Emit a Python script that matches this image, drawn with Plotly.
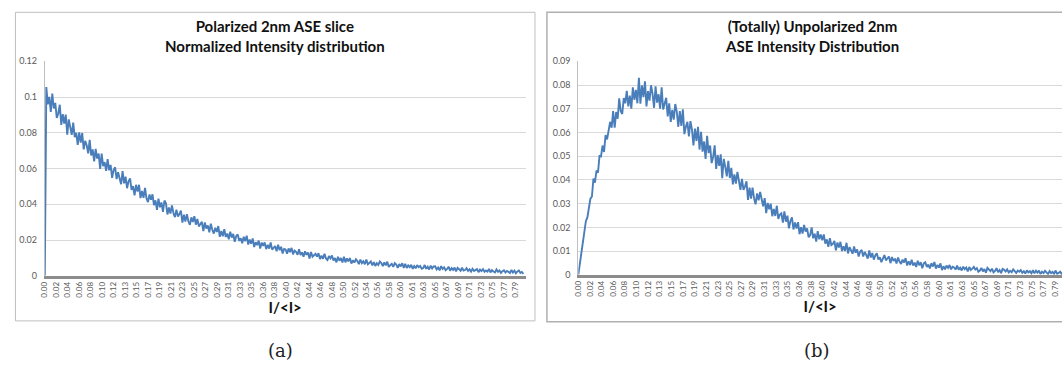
import plotly.graph_objects as go

# ---- data -----------------------------------------------------------------
# Normalised intensity histograms, one value per bin of width BIN_WIDTH in I/<I>
BIN_WIDTH = 0.0025

polarized = [
    0.0,
    0.1056, 0.0959, 0.1001, 0.0917, 0.1020, 0.0936, 0.0967, 0.0883, 0.0908, 0.0957,
    0.0844, 0.0905, 0.0852, 0.0902, 0.0790, 0.0875, 0.0835, 0.0789, 0.0857, 0.0775,
    0.0800, 0.0733, 0.0802, 0.0745, 0.0799, 0.0707, 0.0755, 0.0730, 0.0685, 0.0760,
    0.0673, 0.0707, 0.0640, 0.0710, 0.0656, 0.0684, 0.0598, 0.0684, 0.0613, 0.0636,
    0.0587, 0.0652, 0.0590, 0.0620, 0.0548, 0.0591, 0.0607, 0.0541, 0.0579, 0.0549,
    0.0512, 0.0586, 0.0517, 0.0555, 0.0490, 0.0529, 0.0545, 0.0480, 0.0502, 0.0450,
    0.0509, 0.0471, 0.0509, 0.0435, 0.0474, 0.0436, 0.0491, 0.0433, 0.0412, 0.0455,
    0.0425, 0.0456, 0.0395, 0.0422, 0.0369, 0.0432, 0.0383, 0.0410, 0.0357, 0.0421,
    0.0405, 0.0343, 0.0382, 0.0348, 0.0394, 0.0351, 0.0328, 0.0370, 0.0331, 0.0345,
    0.0364, 0.0297, 0.0342, 0.0303, 0.0345, 0.0305, 0.0285, 0.0327, 0.0301, 0.0333,
    0.0286, 0.0318, 0.0276, 0.0290, 0.0302, 0.0250, 0.0298, 0.0264, 0.0282, 0.0243,
    0.0291, 0.0257, 0.0236, 0.0269, 0.0245, 0.0278, 0.0218, 0.0251, 0.0221, 0.0260,
    0.0217, 0.0236, 0.0204, 0.0247, 0.0214, 0.0234, 0.0190, 0.0222, 0.0231, 0.0195,
    0.0210, 0.0182, 0.0218, 0.0194, 0.0224, 0.0175, 0.0203, 0.0179, 0.0209, 0.0161,
    0.0188, 0.0171, 0.0197, 0.0152, 0.0186, 0.0167, 0.0187, 0.0149, 0.0173, 0.0152,
    0.0186, 0.0146, 0.0160, 0.0166, 0.0137, 0.0174, 0.0143, 0.0162, 0.0125, 0.0150,
    0.0147, 0.0123, 0.0153, 0.0132, 0.0156, 0.0120, 0.0141, 0.0134, 0.0117, 0.0149,
    0.0116, 0.0131, 0.0107, 0.0137, 0.0117, 0.0130, 0.0097, 0.0133, 0.0107, 0.0118,
    0.0123, 0.0107, 0.0126, 0.0093, 0.0113, 0.0095, 0.0123, 0.0097, 0.0088, 0.0110,
    0.0097, 0.0113, 0.0085, 0.0099, 0.0075, 0.0106, 0.0084, 0.0099, 0.0074, 0.0106,
    0.0075, 0.0097, 0.0081, 0.0099, 0.0068, 0.0086, 0.0074, 0.0092, 0.0082, 0.0065,
    0.0091, 0.0071, 0.0081, 0.0064, 0.0091, 0.0064, 0.0071, 0.0080, 0.0058, 0.0076,
    0.0055, 0.0070, 0.0060, 0.0080, 0.0071, 0.0054, 0.0075, 0.0058, 0.0079, 0.0049,
    0.0059, 0.0067, 0.0050, 0.0070, 0.0062, 0.0044, 0.0065, 0.0052, 0.0070, 0.0044,
    0.0067, 0.0044, 0.0058, 0.0048, 0.0061, 0.0039, 0.0054, 0.0042, 0.0060, 0.0048,
    0.0055, 0.0039, 0.0043, 0.0060, 0.0039, 0.0050, 0.0035, 0.0057, 0.0041, 0.0052,
    0.0053, 0.0035, 0.0046, 0.0030, 0.0054, 0.0038, 0.0047, 0.0031, 0.0038, 0.0051,
    0.0028, 0.0043, 0.0033, 0.0046, 0.0024, 0.0044, 0.0037, 0.0028, 0.0045, 0.0029,
    0.0032, 0.0042, 0.0027, 0.0036, 0.0023, 0.0039, 0.0027, 0.0030, 0.0037, 0.0020,
    0.0035, 0.0026, 0.0037, 0.0022, 0.0030, 0.0023, 0.0038, 0.0019, 0.0031, 0.0024,
    0.0019, 0.0035, 0.0022, 0.0030, 0.0016, 0.0026, 0.0031, 0.0018, 0.0027, 0.0022,
    0.0015, 0.0032, 0.0018, 0.0028, 0.0014, 0.0024, 0.0029, 0.0016, 0.0021, 0.0011,
]

unpolarized = [
    0.0,
    0.0048, 0.0080, 0.0143, 0.0176, 0.0226, 0.0242, 0.0290, 0.0321, 0.0330, 0.0406,
    0.0388, 0.0439, 0.0431, 0.0501, 0.0499, 0.0545, 0.0518, 0.0589, 0.0571, 0.0606,
    0.0645, 0.0620, 0.0690, 0.0620, 0.0686, 0.0658, 0.0744, 0.0690, 0.0678, 0.0745,
    0.0723, 0.0775, 0.0710, 0.0755, 0.0700, 0.0790, 0.0738, 0.0780, 0.0723, 0.0830,
    0.0721, 0.0799, 0.0749, 0.0816, 0.0710, 0.0774, 0.0734, 0.0799, 0.0763, 0.0704,
    0.0795, 0.0726, 0.0761, 0.0700, 0.0790, 0.0697, 0.0718, 0.0746, 0.0668, 0.0723,
    0.0645, 0.0695, 0.0654, 0.0720, 0.0687, 0.0624, 0.0690, 0.0628, 0.0698, 0.0593,
    0.0624, 0.0645, 0.0583, 0.0648, 0.0613, 0.0545, 0.0616, 0.0564, 0.0624, 0.0528,
    0.0603, 0.0519, 0.0562, 0.0488, 0.0586, 0.0513, 0.0545, 0.0471, 0.0497, 0.0546,
    0.0446, 0.0505, 0.0459, 0.0508, 0.0407, 0.0489, 0.0455, 0.0415, 0.0480, 0.0408,
    0.0451, 0.0381, 0.0423, 0.0384, 0.0434, 0.0384, 0.0358, 0.0404, 0.0358, 0.0372,
    0.0394, 0.0316, 0.0367, 0.0321, 0.0367, 0.0322, 0.0297, 0.0343, 0.0314, 0.0349,
    0.0314, 0.0289, 0.0323, 0.0260, 0.0303, 0.0276, 0.0300, 0.0247, 0.0278, 0.0248,
    0.0291, 0.0236, 0.0254, 0.0259, 0.0220, 0.0267, 0.0224, 0.0249, 0.0196, 0.0227,
    0.0242, 0.0191, 0.0221, 0.0195, 0.0222, 0.0171, 0.0201, 0.0174, 0.0210, 0.0182,
    0.0195, 0.0158, 0.0167, 0.0200, 0.0154, 0.0173, 0.0140, 0.0184, 0.0150, 0.0170,
    0.0146, 0.0170, 0.0131, 0.0149, 0.0118, 0.0154, 0.0125, 0.0130, 0.0143, 0.0103,
    0.0136, 0.0115, 0.0139, 0.0100, 0.0120, 0.0101, 0.0135, 0.0090, 0.0117, 0.0100,
    0.0089, 0.0119, 0.0093, 0.0107, 0.0077, 0.0097, 0.0105, 0.0077, 0.0096, 0.0084,
    0.0068, 0.0103, 0.0073, 0.0092, 0.0064, 0.0082, 0.0091, 0.0064, 0.0074, 0.0053,
    0.0066, 0.0083, 0.0061, 0.0070, 0.0077, 0.0049, 0.0075, 0.0058, 0.0068, 0.0048,
    0.0073, 0.0056, 0.0046, 0.0064, 0.0052, 0.0070, 0.0039, 0.0057, 0.0041, 0.0063,
    0.0039, 0.0051, 0.0033, 0.0059, 0.0040, 0.0053, 0.0028, 0.0048, 0.0053, 0.0033,
    0.0043, 0.0027, 0.0049, 0.0035, 0.0054, 0.0026, 0.0042, 0.0030, 0.0048, 0.0020,
    0.0036, 0.0023, 0.0039, 0.0029, 0.0041, 0.0023, 0.0034, 0.0031, 0.0022, 0.0039,
    0.0022, 0.0030, 0.0018, 0.0034, 0.0024, 0.0031, 0.0014, 0.0033, 0.0020, 0.0026,
    0.0033, 0.0022, 0.0028, 0.0013, 0.0018, 0.0029, 0.0014, 0.0024, 0.0009, 0.0029,
    0.0020, 0.0015, 0.0026, 0.0010, 0.0016, 0.0028, 0.0011, 0.0020, 0.0007, 0.0025,
    0.0021, 0.0014, 0.0023, 0.0010, 0.0017, 0.0011, 0.0023, 0.0013, 0.0008, 0.0018,
    0.0013, 0.0020, 0.0008, 0.0015, 0.0005, 0.0019, 0.0010, 0.0015, 0.0006, 0.0019,
    0.0006, 0.0017, 0.0009, 0.0018, 0.0003, 0.0013, 0.0007, 0.0017, 0.0011, 0.0003,
    0.0016, 0.0007, 0.0012, 0.0004, 0.0018, 0.0004, 0.0008, 0.0013, 0.0003, 0.0012,
]

# Category labels printed along the horizontal axis
tick_labels = [
    "0.00", "0.02", "0.04", "0.06", "0.08", "0.10", "0.12", "0.13", "0.15", "0.17",
    "0.19", "0.21", "0.23", "0.25", "0.27", "0.29", "0.31", "0.33", "0.35", "0.36",
    "0.38", "0.40", "0.42", "0.44", "0.46", "0.48", "0.50", "0.52", "0.54", "0.56",
    "0.58", "0.60", "0.61", "0.63", "0.65", "0.67", "0.69", "0.71", "0.73", "0.75",
    "0.77", "0.79",
]
LABEL_STEP = 0.0192  # spacing between labelled categories

titles = [
    "Polarized 2nm ASE slice<br>Normalized Intensity distribution",
    "(Totally) Unpolarized 2nm<br>ASE Intensity Distribution",
]
captions = ["(a)", "(b)"]
x_title = "I/&lt;I&gt;"

# ---- figure ----------------------------------------------------------------
W, H = 1062, 371
LINE_BLUE = "#4a7ebb"
TEXT_GREY = "#595959"
FONT = "Lato"


def px_x(v):
    return v / W


def px_y(v):
    return 1 - v / H


x_pol = [i * BIN_WIDTH for i in range(len(polarized))]
x_unp = [i * BIN_WIDTH for i in range(len(unpolarized))]
tick_pos = [i * LABEL_STEP for i in range(len(tick_labels))]

fig = go.Figure()
fig.add_trace(go.Scatter(x=x_pol, y=polarized, mode="lines",
                         line=dict(color=LINE_BLUE, width=1.9),
                         xaxis="x", yaxis="y", showlegend=False))
fig.add_trace(go.Scatter(x=x_unp, y=unpolarized, mode="lines",
                         line=dict(color=LINE_BLUE, width=1.9),
                         xaxis="x2", yaxis="y2", showlegend=False))


def x_axis(domain, xmax, anchor):
    return dict(
        domain=domain, range=[0, xmax], anchor=anchor,
        tickmode="array", tickvals=tick_pos, ticktext=tick_labels,
        tickangle=-90, tickfont=dict(family=FONT, size=8, color=TEXT_GREY),
        ticks="", showgrid=False, zeroline=False,
        showline=True, linecolor="#8c8c8c", linewidth=3,
        title=dict(text="<b>" + x_title + "</b>",
                   font=dict(family=FONT, size=15, color="#111111"), standoff=5),
    )


def y_axis(domain, ymax, dtick, anchor):
    return dict(
        domain=domain, range=[0, ymax], anchor=anchor, dtick=dtick,
        tickfont=dict(family=FONT, size=9, color=TEXT_GREY),
        ticks="outside", ticklen=5, tickcolor="rgba(0,0,0,0)",
        showgrid=True, gridcolor="#d9d9d9", gridwidth=1, zeroline=False,
        showline=True, linecolor="#bfbfbf", linewidth=1,
    )


fig.update_layout(
    width=W, height=H, autosize=False,
    margin=dict(l=0, r=0, t=0, b=0, pad=0),
    paper_bgcolor="white", plot_bgcolor="white",
    xaxis=x_axis([px_x(40), px_x(523)], 0.8036, "y"),
    yaxis=y_axis([1 - 278 / H, 1 - 57 / H], 0.12, 0.02, "x"),
    xaxis2=x_axis([px_x(576), 1.0], 0.798, "y2"),
    yaxis2=y_axis([1 - 277 / H, 1 - 57 / H], 0.09, 0.01, "x2"),
)

# chart frames
fig.add_shape(type="rect", xref="paper", yref="paper",
              x0=px_x(10.5), x1=px_x(532.5), y0=px_y(324.5), y1=px_y(6.5),
              line=dict(color="#bfbfbf", width=1), layer="below")
fig.add_shape(type="rect", xref="paper", yref="paper",
              x0=px_x(544.5), x1=px_x(1070), y0=px_y(325.5), y1=px_y(6.5),
              line=dict(color="#b0b0b0", width=1.5), layer="below")

# chart titles
for cx, txt in zip([271.5, 810.5], titles):
    fig.add_annotation(xref="paper", yref="paper", x=px_x(cx), y=px_y(31),
                       text="<b>" + txt + "</b>", showarrow=False,
                       xanchor="center", yanchor="middle",
                       font=dict(family=FONT, size=15, color="#111111"))

# sub-figure captions
for cx, txt in zip([277, 816], captions):
    fig.add_annotation(xref="paper", yref="paper", x=px_x(cx), y=px_y(355),
                       text=txt, showarrow=False, xanchor="center", yanchor="middle",
                       font=dict(family="DejaVu Serif", size=18, color="#222222"))

fig.write_html("out.html")
